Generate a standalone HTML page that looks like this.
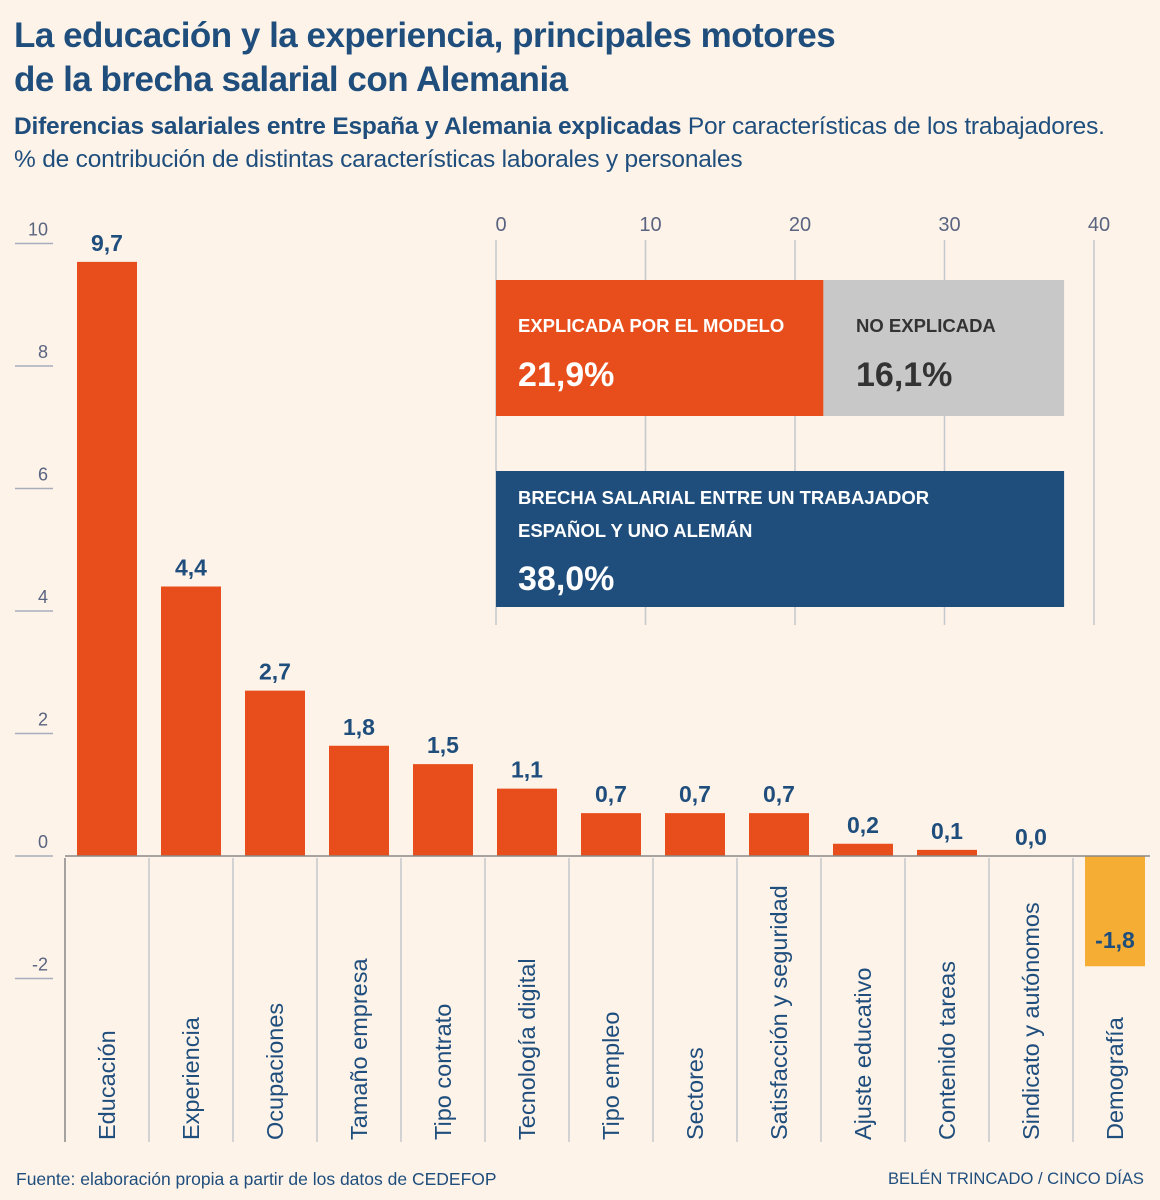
<!DOCTYPE html>
<html><head><meta charset="utf-8"><style>
body{margin:0;background:#fdf3e9;font-family:"Liberation Sans",sans-serif;}
#root{position:relative;width:1160px;height:1200px;overflow:hidden;background:#fdf3e9;}
.t{position:absolute;color:#1f4e7d;white-space:nowrap;}
</style></head><body>
<div id="root">
<div class="t" style="left:14px;top:14px;font-size:35px;font-weight:bold;line-height:44px;letter-spacing:-0.5px">La educación y la experiencia, principales motores<br>de la brecha salarial con Alemania</div>
<div class="t" style="left:14px;top:110px;font-size:24.5px;line-height:33px;letter-spacing:-0.2px"><b>Diferencias salariales entre España y Alemania explicadas</b> Por características de los trabajadores.<br>% de contribución de distintas características laborales y personales</div>
<svg id="svg" width="1160" height="1200" style="position:absolute;left:0;top:0"></svg>
<div class="t" style="left:16px;top:1169px;font-size:17.5px">Fuente: elaboración propia a partir de los datos de CEDEFOP</div>
<div class="t" style="right:16px;top:1169px;font-size:16.6px">BELÉN TRINCADO / CINCO DÍAS</div>
</div>
<script>
const categories=["Educación","Experiencia","Ocupaciones","Tamaño empresa","Tipo contrato","Tecnología digital","Tipo empleo","Sectores","Satisfacción y seguridad","Ajuste educativo","Contenido tareas","Sindicato y autónomos","Demografía"];
const values=[9.7,4.4,2.7,1.8,1.5,1.1,0.7,0.7,0.7,0.2,0.1,0.0,-1.8];
const yTicks=[10,8,6,4,2,0,-2];
const insetTicks=[0,10,20,30,40];
const explained=[21.9];
const unexplained=[16.1];
const total=[38.0];
const NS="http://www.w3.org/2000/svg";
const svg=document.getElementById('svg');
function el(tag,attrs,text){const e=document.createElementNS(NS,tag);for(const k in attrs)e.setAttribute(k,attrs[k]);if(text!==undefined)e.textContent=text;svg.appendChild(e);return e;}
const y=v=>856-v*61.25;
const xc=i=>107+i*84;
const fmt=v=>v.toFixed(1).replace('.',',');
yTicks.forEach(t=>{
 const l=el('line',{x1:15,x2:53,y1:y(t),y2:y(t),stroke:'#a7adbd','stroke-width':1.5});
 
 const tx=el('text',{x:48,y:y(t)-8,'text-anchor':'end','font-size':18,fill:'#5a6480','font-family':'Liberation Sans'},String(t));
 
});
const ix=v=>496+v*14.95;
insetTicks.forEach(t=>{
 const g=el('line',{x1:ix(t),x2:ix(t),y1:240,y2:625,stroke:'#c5c8cc','stroke-width':1.5});
 
 const tx=el('text',{x:ix(t)+5,y:231,'text-anchor':'middle','font-size':20,fill:'#5a6480','font-family':'Liberation Sans'},String(t));
 
});
let r=el('rect',{x:ix(0),y:280,width:ix(explained[0])-ix(0),height:136,fill:'#e84e1b'});

r=el('rect',{x:ix(explained[0]),y:280,width:ix(explained[0]+unexplained[0])-ix(explained[0]),height:136,fill:'#c8c8c8'});

r=el('rect',{x:ix(0),y:471,width:ix(total[0])-ix(0),height:136,fill:'#1f4e7d'});

function lab(x,yy,s,sz,col,name){const t=el('text',{x:x,y:yy,'font-size':sz,'font-weight':'bold',fill:col,'font-family':'Liberation Sans'},s);}
lab(518,332,'EXPLICADA POR EL MODELO',18.5,'#fff','explained-label');
lab(518,386,fmt(explained[0])+'%',34,'#fff','explained-value');
lab(856,332,'NO EXPLICADA',18.5,'#333','unexplained-label');
lab(856,386,fmt(unexplained[0])+'%',34,'#333','unexplained-value');
lab(518,504,'BRECHA SALARIAL ENTRE UN TRABAJADOR',18.5,'#fff','total-label-1');
lab(518,537,'ESPAÑOL Y UNO ALEMÁN',18.5,'#fff','total-label-2');
lab(518,590,fmt(total[0])+'%',34,'#fff','total-value');
categories.forEach((c,i)=>{
 const v=values[i];
 const b=el('rect',{x:xc(i)-30,y:Math.min(y(v),y(0)),width:60,height:Math.abs(y(v)-y(0)),fill:v<0?'#f5ad33':'#e84e1b'});
 
 const vl=el('text',{x:xc(i),y:v<0?y(0)+92:y(v)-11,'text-anchor':'middle','font-size':23,'font-weight':'bold',fill:'#1f4e7d','font-family':'Liberation Sans'},fmt(v));
 
 const s=el('line',{x1:xc(i)-42,x2:xc(i)-42,y1:858,y2:1142,stroke:i==0?'#888':'#c5c8cc','stroke-width':1.5});
 
 const cl=el('text',{x:0,y:0,transform:`translate(${xc(i)+8},1140) rotate(-90)`,'font-size':23.5,fill:'#1f4e7d','font-family':'Liberation Sans'},c);
 
});
const ax=el('line',{x1:65,x2:1150,y1:y(0),y2:y(0),stroke:'#888','stroke-width':1.5});

</script>
</body></html>
